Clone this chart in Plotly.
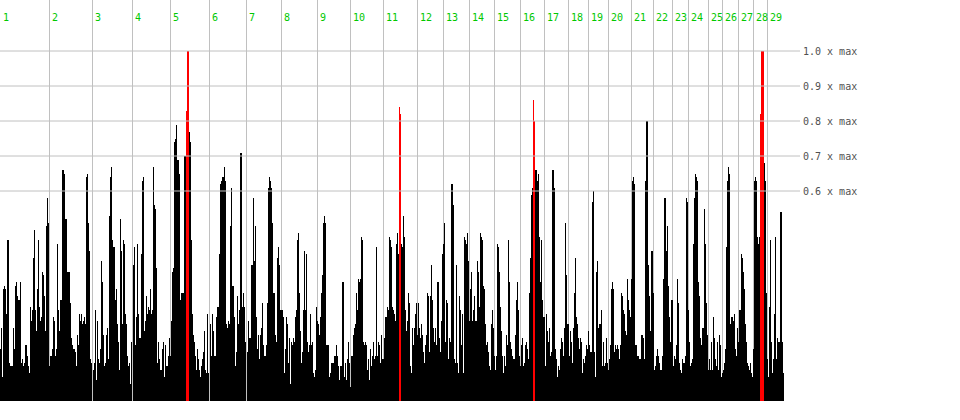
import plotly.graph_objects as go

# Day labels and the bar index where each day starts
day_labels = [str(d) for d in range(1, 30)]
day_starts = [0, 49, 92, 132, 170, 209, 246, 281, 317, 350, 383, 417, 443, 469,
              494, 520, 544, 568, 588, 608, 631, 653, 672, 688, 708, 722, 738, 753, 767]

# Bar heights in percent of max, one bar per slot
vals_a = [15, 21, 7, 32, 33, 32, 25, 46, 46, 11, 10, 10, 10, 21, 15, 33, 34, 30, 29, 29,
          34, 11, 12, 10, 11, 16, 16, 13, 10, 8, 27, 23, 26, 41, 49, 26, 20, 32, 46, 27,
          23, 24, 37, 36, 30, 20, 50, 58, 51, 10,
          13, 13, 15, 24, 23, 13, 15, 45, 26, 20, 29, 29, 66, 66, 65, 52, 52, 37, 37, 37,
          28, 18, 16, 15, 15, 14, 10, 19, 16, 25, 23, 25, 22, 23, 24, 22, 64, 65, 51, 43,
          12, 11, 0, 9, 11, 26, 6, 23, 12, 11]
vals_b = [15, 40, 34, 19, 10, 11, 19, 21, 12, 53, 64, 67, 46, 44, 44, 29, 32, 22, 17, 9,
          52, 43, 22, 46, 45, 25, 22, 13, 10, 11, 5, 17, 0, 39, 44, 16, 24, 45, 25, 18,
          18, 42, 63, 64, 20, 23, 30, 25, 27, 26,
          32, 25, 26, 67, 56, 55, 38, 11, 17, 12, 9, 9, 15, 17, 7, 16, 10, 10, 13, 18,
          13, 23, 37, 38, 74, 75, 79, 69, 69, 65, 29, 31, 31, 31, 70, 70, 83, 100, 100, 77,
          74, 46, 25, 19, 17, 13, 9, 15, 12, 9]
vals_c = [7, 10, 12, 14, 20, 9, 8, 25, 8, 0, 22, 13, 25, 20, 13, 13, 24, 27, 27, 42,
          62, 63, 64, 64, 67, 63, 22, 21, 23, 22, 50, 61, 33, 33, 24, 10, 14, 30, 22, 26,
          71, 71, 27, 31, 27, 17, 0, 14, 23, 18,
          18, 39, 39, 58, 40, 50, 24, 15, 19, 12, 19, 21, 28, 16, 13, 13, 16, 28, 61, 64,
          63, 61, 51, 31, 31, 19, 17, 41, 44, 39, 26, 26, 26, 24, 8, 15, 24, 22, 11, 18,
          5, 17, 16, 18, 17, 24, 26, 46, 48, 31]
vals_d = [20, 11, 14, 26, 43, 26, 42, 17, 14, 16, 25, 16, 17, 8, 7, 9, 27, 23, 22, 19,
          24, 31, 36, 51, 53, 51, 16, 16, 16, 7, 8, 11, 11, 11, 13, 13, 16, 13, 10, 6,
          10, 10, 34, 34, 7, 11, 6, 12, 17, 11,
          4, 13, 13, 19, 21, 22, 31, 26, 35, 34, 35, 47, 46, 17, 16, 17, 16, 9, 12, 6,
          15, 10, 13, 17, 12, 13, 44, 13, 17, 16, 11, 19, 12, 12, 18, 24, 24, 27, 26, 47,
          46, 44, 27, 26, 25, 23, 45, 48, 42, 84]
vals_e = [82, 45, 44, 53, 47, 26, 20, 23, 31, 28, 10, 8, 21, 16, 21, 25, 28, 19, 28, 21,
          18, 22, 19, 14, 11, 16, 19, 31, 30, 14, 30, 39, 29, 21, 17, 21, 16, 34, 34, 18,
          14, 23, 42, 45, 51, 17, 29, 28, 12, 18,
          17, 62, 62, 56, 12, 11, 39, 11, 8, 30, 26, 16, 25, 8, 47, 46, 45, 48, 40, 23,
          32, 37, 23, 26, 30, 23, 23, 40, 37, 27, 48, 47, 46, 33, 32, 22, 16, 17, 14, 10,
          9, 22, 26, 21, 13, 9, 13, 45, 44, 37]
vals_f = [27, 20, 13, 8, 13, 10, 19, 16, 46, 34, 17, 15, 13, 12, 12, 19, 29, 34, 26, 13,
          10, 16, 18, 10, 11, 16, 17, 15, 12, 31, 41, 59, 61, 86, 80, 66, 66, 63, 65, 47,
          34, 46, 29, 24, 24, 10, 25, 20, 17, 21,
          13, 14, 66, 66, 61, 15, 12, 7, 10, 9, 15, 18, 17, 13, 21, 51, 36, 22, 22, 13,
          20, 17, 11, 21, 31, 41, 24, 22, 18, 15, 18, 17, 8, 12, 11, 13, 16, 15, 20, 16,
          14, 14, 57, 60, 14, 7, 37, 40, 21, 22]
vals_g = [22, 26, 10, 17, 10, 11, 18, 11, 9, 12, 16, 32, 34, 32, 14, 16, 15, 16, 15, 12,
          16, 31, 30, 26, 25, 20, 19, 35, 29, 26, 24, 35, 63, 64, 62, 16, 16, 13, 13, 12,
          12, 19, 19, 18, 12, 63, 80, 80, 39, 30,
          20, 43, 43, 31, 9, 10, 13, 15, 13, 11, 9, 9, 13, 35, 58, 58, 43, 50, 33, 24,
          17, 29, 29, 10, 13, 12, 16, 35, 28, 11, 9, 8, 12, 11, 11, 13, 58, 57, 26, 17,
          10, 11, 12, 45, 58, 65, 64, 63, 34, 30]
vals_h = [18, 16, 21, 21, 55, 45, 28, 19, 9, 12, 9, 17, 9, 24, 18, 12, 10, 17, 9, 19,
          16, 7, 8, 9, 11, 15, 44, 63, 67, 65, 22, 24, 24, 23, 25, 15, 13, 21, 17, 26,
          26, 42, 41, 37, 32, 22, 17, 11, 10, 9,
          11, 8, 7, 15, 63, 64, 63, 47, 45, 47, 82, 100, 100, 100, 68, 63, 31, 12, 7, 27,
          46, 17, 8, 12, 25, 47, 12, 18, 17, 17, 54, 54, 17, 8]

# Slots drawn in red
highlight = [186, 187, 188, 399, 400, 533, 534, 760, 761, 762, 763]

# Horizontal reference levels (fraction of max)
ref_levels = [0.6, 0.7, 0.8, 0.9, 1.0]

values = vals_a + vals_b + vals_c + vals_d + vals_e + vals_f + vals_g + vals_h
heights = [v / 100 for v in values]
idx = list(range(len(heights)))
hl = set(highlight)
colors = ["#ff0000" if i in hl else "#000000" for i in idx]

W, H = 960, 420
PLOT_W, PLOT_H = 800, 401
PX_PER_UNIT = 350

fig = go.Figure()
fig.add_trace(go.Bar(x=idx, y=heights, marker=dict(color=colors, line=dict(width=0)),
                     hoverinfo="skip"))

mono = "DejaVu Sans Mono"
for lab, pos in zip(day_labels, day_starts):
    fig.add_annotation(x=pos, xref="x", y=1, yref="paper", yshift=-17.5,
                       text=lab, showarrow=False, xanchor="left", yanchor="middle",
                       xshift=0, font=dict(family=mono, size=10, color="#00c800"))

for lv in ref_levels:
    fig.add_shape(type="line", xref="paper", x0=0, x1=1, yref="y", y0=lv, y1=lv,
                  line=dict(color="#c0c0c0", width=1), layer="above")
    fig.add_annotation(x=1, xref="paper", y=lv, yref="y", text=f"{lv:.1f} x max",
                       showarrow=False, xanchor="left", yanchor="middle", xshift=1,
                       font=dict(family=mono, size=10, color="#505050"))

fig.update_layout(
    width=W, height=H,
    margin=dict(l=0, r=W - PLOT_W, t=0, b=H - PLOT_H, pad=0),
    paper_bgcolor="white", plot_bgcolor="white",
    bargap=0, showlegend=False,
    xaxis=dict(range=[-0.5, PLOT_W - 0.5], tickvals=day_starts, showticklabels=False,
               ticks="", showgrid=True, gridcolor="#c0c0c0", gridwidth=1,
               zeroline=False, showline=False, fixedrange=True),
    yaxis=dict(range=[0, PLOT_H / PX_PER_UNIT], showgrid=False, showticklabels=False,
               ticks="", zeroline=False, showline=False, fixedrange=True),
)

fig.write_html("out.html", config={"displayModeBar": False},
               post_script="document.body.style.margin='0';document.body.style.padding='0';")
